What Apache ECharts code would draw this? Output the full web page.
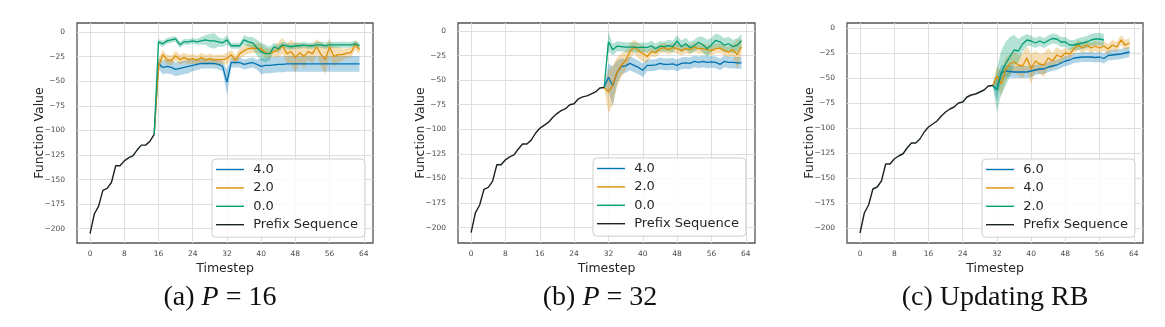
<!DOCTYPE html>
<html><head><meta charset="utf-8">
<script src="https://cdn.jsdelivr.net/npm/echarts@6/dist/echarts.min.js"></script>
<style>html,body{margin:0;padding:0;background:#fff}#c{width:1165px;height:327px}</style>
</head><body><div id="c"></div>
<script>
// ---------------- data ----------------
const prefixSeq = [-205, -185, -177, -161, -159, -153, -136, -136, -131, -128, -126, -120, -115, -115, -111, -104,
  -99, -96, -93, -88, -84, -81, -79, -75, -74, -69, -67, -66, -64, -62, -58, -57.5];
const tickX = [0, 8, 16, 24, 32, 40, 48, 56, 64];
const tickY = [-200, -175, -150, -125, -100, -75, -50, -25, 0];
const legendAB = ['4.0', '2.0', '0.0', 'Prefix Sequence'];
const legendC = ['6.0', '4.0', '2.0', 'Prefix Sequence'];
const captionLabels = [['(a) ', 'P', ' = 16'], ['(b) ', 'P', ' = 32'], ['(c) Updating RB', '', '']];

// panel (a): timesteps 15..63
const aBlue = [-104, -32, -36, -35, -36, -38, -37, -36, -35, -34, -33, -32, -32, -32, -32, -33, -35, -51, -31, -31, -31, -33, -32, -31, -33, -35, -34, -34, -33.5, -33, -33,
  -32.5, -32.5, -32.5, -32.5, -32.5, -32.5, -32.5, -32.5, -32.5, -32.5, -32.5, -32.5, -32.5, -32.5, -32.5, -32.5, -32.5, -32.5];
const aBlueErr = [0, 5, 7, 7, 7, 7, 7, 7, 7, 6, 6, 5, 5, 5, 5, 5, 5, 13, 5, 5, 5, 5, 5, 5, 5,
  8, 8, 8, 8, 8, 8, 8, 8, 8, 8, 8, 8, 8, 8, 8, 8, 8, 8, 8, 8, 8, 8, 8, 8];
const aOrange = [-104, -35, -23, -28, -29, -24, -28, -26, -28, -27, -29, -26, -28.5, -27, -28.5, -28, -28, -27, -23, -28.5, -22, -19, -17, -16.5, -16.5, -17,
  -21, -22, -20, -18, -14, -22, -20, -26, -21, -25, -20, -22, -15, -23, -28, -15, -25, -23, -23, -21.5, -21, -13, -18];
const aOrangeErr = [0, 8, 5, 5, 5, 5, 5, 5, 5, 5, 5, 5, 5, 5, 5, 5, 5, 6, 5, 5, 5, 5, 5, 5, 5, 5, 5, 5, 5,
  8, 8, 10, 12, 15, 10, 12, 8, 10, 8, 12, 15, 8, 10, 8, 6, 5, 5, 5, 5];
const aGreen = [-104, -10, -12, -9, -8, -7, -13, -10, -10, -9, -10, -9, -8, -9, -9, -10, -11, -8, -14, -14, -14, -8, -10, -11, -16, -20, -22, -22, -15, -17,
  -13, -14, -15, -14, -14, -13, -14, -14, -13, -13, -14, -13, -13, -13, -13, -13, -13, -12, -14];
const aGreenErr = [0, 3, 3, 3, 3, 3, 3, 3, 3, 3, 3, 4, 5, 7, 8, 5, 4, 5, 3, 3, 3, 5, 5, 6, 8, 9, 9, 7, 4, 4,
  3, 3, 3, 3, 3, 3, 3, 3, 3, 3, 3, 3, 3, 3, 3, 3, 3, 3, 3];

// panel (b): timesteps 31..63
const bBlue = [-57.5, -47, -56, -42, -36, -35.5, -33, -35, -37, -40, -35, -35, -34.5, -33, -34, -34, -33.5, -35, -33, -32.5, -33, -31, -32, -31, -32, -31.5, -32, -34, -31, -32, -32, -32.5, -32.5];
const bBlueErr = [0, 14, 20, 12, 8, 7, 7, 7, 7, 7, 6, 6, 6, 6, 6, 6, 6, 6, 6, 6, 6, 6, 6, 6, 6, 6, 6, 6, 6, 6, 6, 6, 6];
const bOrange = [-57.5, -62, -55, -42, -35, -30, -21, -16, -20, -23, -26, -21, -22, -18, -17, -19, -17, -18, -20, -18, -19, -16.5, -18, -18, -19, -20, -18, -17.5, -20, -21.5, -19, -24, -16];
const bOrangeErr = [0, 22, 20, 15, 12, 10, 8, 7, 8, 8, 6, 5, 5, 5, 5, 5, 5, 5, 5, 5, 5, 5, 5, 5, 5, 5, 5, 5, 5, 5, 6, 15, 8];
const bGreen = [-57.5, -11, -19, -15.5, -16, -16.5, -16.5, -16.5, -17, -16.5, -17, -15, -18, -15.5, -16, -15, -16, -10, -16, -13, -17, -15, -11.5, -14, -18, -14, -9.5, -11, -14.5, -13, -16, -14.5, -10];
const bGreenErr = [0, 10, 6, 5, 5, 5, 5, 5, 5, 5, 5, 5, 5, 5, 5, 6, 6, 6, 6, 6, 6, 6, 6, 8, 9, 7, 7, 7, 7, 7, 7, 7, 7];

// panel (c): timesteps 31..63 (green 31..57)
const cBlue = [-57.5, -61, -45, -43, -43.5, -44, -44, -44, -44, -43, -42, -41, -41, -39, -38, -37, -35, -33, -32, -30, -29.5, -29, -29, -29, -29.5, -29, -30.5, -27.5, -27, -26.5, -26, -25, -24];
const cBlueErr = [0, 12, 8, 6, 6, 6, 6, 6, 6, 6, 5, 5, 5, 5, 5, 5, 5, 5, 5, 5, 5, 5, 5, 5, 5, 5, 5, 5, 5, 5, 5, 5, 5];
const cOrange = [-57.5, -48, -56, -42, -36, -34, -37, -38, -30, -41, -33, -36, -37, -30, -33, -27, -29, -25, -26, -21, -17, -20, -17, -20, -18, -20, -18, -21, -17, -19, -12, -17, -15];
const cOrangeErr = [0, 10, 12, 12, 10, 10, 10, 12, 12, 15, 10, 10, 12, 10, 8, 8, 7, 5, 5, 5, 5, 5, 5, 5, 5, 5, 5, 5, 5, 5, 5, 5, 5];
const cGreen = [-57.5, -62, -45, -36, -29, -22, -23, -16, -12, -13, -15, -13, -15, -12.5, -10.5, -11, -14, -14, -17, -17, -16, -15, -14, -12, -11, -11, -12];
const cGreenErr = [0, 22, 22, 22, 20, 15, 12, 8, 6, 5, 5, 5, 5, 5, 5, 5, 5, 5, 5, 5, 6, 6, 6, 6, 6, 6, 6];

// ---------------- styling ----------------
const COL = { blue: '#0173b2', orange: '#de8f05', green: '#029e73', prefix: '#1a241e' };
const FONT = 'DejaVu Sans';
const grids = [
  { left: 77, top: 23, width: 296, height: 220 },
  { left: 458, top: 23, width: 297, height: 220 },
  { left: 847, top: 23, width: 296, height: 220 }
];
const yRanges = [[-214.5, 9.15], [-215.6, 8.1], [-215, 5]];
const legendPos = [[212, 159], [593, 158], [982, 159]];
const captionX = [220, 600, 995];

function steps(start, n) { return Array.from({ length: n }, (_, i) => start + i); }
function pairs(start, ys) { const xs = steps(start, ys.length); return ys.map((v, i) => [xs[i], v]); }
const minus = v => String(v).replace('-', '\u2212');

function band(g, start, mean, err, color) {
  const xs = steps(start, mean.length);
  const data = mean.map((m, i) => [xs[i], m - err[i], m + err[i]]);
  return {
    type: 'custom', xAxisIndex: g, yAxisIndex: g, silent: true, z: 1, data,
    encode: { x: 0, y: [1, 2] },
    renderItem: function (params, api) {
      if (params.dataIndex !== 0) return null;
      const up = data.map(d => api.coord([d[0], d[2]]));
      const lo = data.map(d => api.coord([d[0], d[1]])).reverse();
      return { type: 'polygon', shape: { points: up.concat(lo) }, style: { fill: color, opacity: 0.3 } };
    }
  };
}
function line(g, name, start, vals, color, width, z) {
  return {
    type: 'line', name, xAxisIndex: g, yAxisIndex: g, data: pairs(start, vals),
    showSymbol: false, symbol: 'none', lineStyle: { color, width }, itemStyle: { color }, z: z || 3
  };
}

const panels = [
  { key: 'a', pre: prefixSeq.slice(0, 16), names: legendAB,
    s: [[aBlue, aBlueErr, COL.blue, 15], [aOrange, aOrangeErr, COL.orange, 15], [aGreen, aGreenErr, COL.green, 15]] },
  { key: 'b', pre: prefixSeq, names: legendAB,
    s: [[bBlue, bBlueErr, COL.blue, 31], [bOrange, bOrangeErr, COL.orange, 31], [bGreen, bGreenErr, COL.green, 31]] },
  { key: 'c', pre: prefixSeq, names: legendC,
    s: [[cBlue, cBlueErr, COL.blue, 31], [cOrange, cOrangeErr, COL.orange, 31], [cGreen, cGreenErr, COL.green, 31]] }
];

const LINE_ICON = 'path://M0,0L28,0L28,1.4L0,1.4Z';
const series = [], xAxes = [], yAxes = [], legends = [], graphics = [];
panels.forEach((p, g) => {
  p.s.forEach((s, k) => {
    series.push(band(g, s[3], s[0], s[1], s[2]));
    series.push(line(g, p.key + '|' + p.names[k], s[3], s[0], s[2], 1.3, 3));
  });
  series.push(line(g, p.key + '|' + p.names[3], 0, p.pre, COL.prefix, 1.4, 4));
  xAxes.push({
    gridIndex: g, type: 'value', min: -3.05, max: 66.15,
    axisLine: { show: false }, axisTick: { show: false, customValues: tickX },
    axisLabel: { customValues: tickX, fontSize: 7.5, color: '#4a4a4a', margin: 7, fontFamily: FONT, formatter: minus },
    splitLine: { show: true, lineStyle: { color: '#dedede', width: 1 } },
    name: 'Timestep', nameLocation: 'middle', nameGap: 19, nameMoveOverlap: false,
    nameTextStyle: { fontSize: 12.5, color: '#262626', fontFamily: FONT }
  });
  yAxes.push({
    gridIndex: g, type: 'value', min: yRanges[g][0], max: yRanges[g][1],
    axisLine: { show: false }, axisTick: { show: false, customValues: tickY },
    axisLabel: { customValues: tickY, fontSize: 7.5, color: '#4a4a4a', margin: 12, fontFamily: FONT, formatter: minus },
    splitLine: { show: true, lineStyle: { color: '#dedede', width: 1 } },
    name: 'Function Value', nameLocation: 'middle', nameGap: 31, nameMoveOverlap: false,
    nameTextStyle: { fontSize: 12.5, color: '#262626', fontFamily: FONT }
  });
  legends.push({
    data: p.names.map(n => ({ name: p.key + '|' + n, icon: LINE_ICON })), orient: 'vertical',
    left: legendPos[g][0], top: legendPos[g][1],
    itemWidth: 28, itemHeight: 13, itemGap: 5.4, padding: [4, 7, 6, 4],
    backgroundColor: 'rgba(255,255,255,0.85)', borderColor: '#cfcfcf', borderWidth: 1, borderRadius: 4,
    textStyle: { fontSize: 13, color: '#262626', fontFamily: FONT, lineHeight: 13 },
    formatter: n => ' ' + n.split('|')[1], selectedMode: false
  });
  const c = captionLabels[g];
  graphics.push({
    type: 'text', x: captionX[g], y: 298, silent: true,
    style: {
      text: '{n|' + c[0] + '}' + (c[1] ? '{i|' + c[1] + '}{n|' + c[2] + '}' : ''),
      align: 'center', verticalAlign: 'middle',
      rich: {
        n: { fontFamily: 'Liberation Serif', fontSize: 28, fill: '#111' },
        i: { fontFamily: 'Liberation Serif', fontSize: 28, fontStyle: 'italic', fill: '#111' }
      }
    }
  });
});

const chart = echarts.init(document.getElementById('c'), null, { renderer: 'canvas' });
chart.setOption({
  animation: false,
  backgroundColor: '#fff',
  grid: grids.map(gr => Object.assign({ show: true, borderColor: '#555', borderWidth: 1.3, backgroundColor: '#fff' }, gr)),
  xAxis: xAxes, yAxis: yAxes, legend: legends, series, graphic: graphics
});
</script>
</body></html>
